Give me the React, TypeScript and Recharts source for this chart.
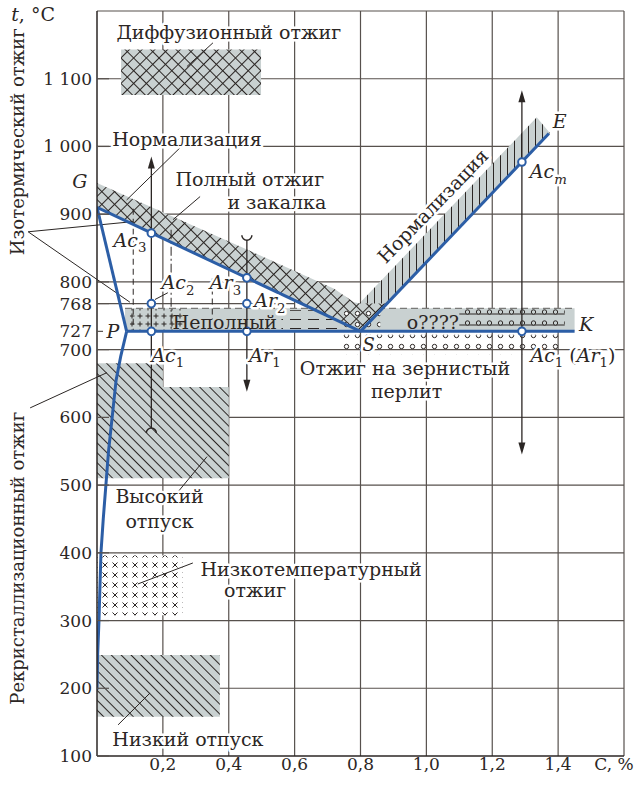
import React from 'react';
import { ComposedChart, XAxis, YAxis, Line, Area, ReferenceLine, ReferenceArea, ReferenceDot } from 'recharts';

const FONT = '"DejaVu Serif", serif';
const INK = '#2b2624';
const BLUE = '#2c5ea6';
const GRAY = '#c9d1d1';
const GRID = '#57514d';

// axes
const xTicks = [0.2, 0.4, 0.6, 0.8, 1.0, 1.2, 1.4, 1.6];
const yTicks = [100, 200, 300, 400, 500, 600, 700, 727, 768, 800, 900, 1000, 1100];
const gridX = [0.2, 0.4, 0.6, 0.8, 1.0, 1.2, 1.4, 1.6];
const gridY = [200, 300, 400, 500, 600, 700, 800, 900, 1000, 1100, 1200];

// phase lines (C %, t °C)
const lineGP = [{ x: 0, y: 910 }, { x: 0.09, y: 727 }];
const lineGS = [{ x: 0, y: 910 }, { x: 0.8, y: 727 }];
const lineSE = [{ x: 0.8, y: 727 }, { x: 1.372, y: 1019 }];
const linePK = [{ x: 0.09, y: 727 }, { x: 1.45, y: 727 }];
const curvePQ = [
  { x: 0.09, y: 727 }, { x: 0.072, y: 690 }, { x: 0.058, y: 655 }, { x: 0.046, y: 600 },
  { x: 0.035, y: 550 }, { x: 0.027, y: 500 }, { x: 0.019, y: 450 }, { x: 0.012, y: 400 },
  { x: 0.006, y: 300 }, { x: 0.002, y: 250 }, { x: 0, y: 198 },
];
const lineCurie = [{ x: 0, y: 768 }, { x: 0.6, y: 768 }];

// hatched bands [low, high]
const bandFull = [
  { x: 0, r: [910, 946] }, { x: 0.45, r: [807, 849] }, { x: 0.72, r: [745, 790] },
  { x: 0.78, r: [732, 770] }, { x: 0.8, r: [727, 768] }, { x: 0.87, r: [763, 768] }, { x: 0.88, r: [768, 768] },
];
const bandNorm = [{ x: 0.8, r: [727, 770] }, { x: 1.335, r: [1000, 1043] }, { x: 1.375, r: [1020, 1020] }];

// critical points
const pointsC = [
  { x: 0.165, y: 872 }, { x: 0.165, y: 768 }, { x: 0.165, y: 727 },
  { x: 0.455, y: 806 }, { x: 0.455, y: 768 }, { x: 0.455, y: 727 },
  { x: 1.29, y: 977 }, { x: 1.29, y: 727 },
];

const fmtY = (v: number) => (v >= 1000 ? `${Math.floor(v / 1000)} ${String(v % 1000).padStart(3, '0')}` : String(v));
const fmtX = (v: number) => (v > 1.5 ? 'C, %' : v.toFixed(1).replace('.', ','));

const YTick = (p: any) => {
  const v = p.payload.value;
  return (
    <g>
      <line x1={p.x + 5} x2={p.x + (v === 727 ? 11 : 17)} y1={p.y} y2={p.y} stroke={GRID} strokeWidth={1.2} />
      <text x={p.x} y={p.y + 6} textAnchor="end" fontFamily={FONT} fontSize={17} fill={INK}>{fmtY(v)}</text>
    </g>
  );
};
const XTick = (p: any) => {
  const v = p.payload.value;
  return (
    <text x={p.x + (v > 1.5 ? -10 : 0)} y={p.y + 12} textAnchor="middle" fontFamily={FONT} fontSize={17} fill={INK}>{fmtX(v)}</text>
  );
};

type Seg = [string, string?];
function Txt({ cx, cy, segs, size = 19, anchor = 'middle', halo = true, rotate = 0 }: any) {
  let level = 0;
  const spans = (segs as Seg[]).map(([t, s = ''], i) => {
    const sub = s.includes('s');
    const target = sub ? size * 0.3 : 0;
    const dy = target - level;
    level = target;
    return (
      <tspan key={i} dy={dy || undefined} fontStyle={s.includes('i') ? 'italic' : 'normal'} fontSize={sub ? size * 0.7 : size}>{t}</tspan>
    );
  });
  return (
    <text x={cx} y={cy + size * 0.35} textAnchor={anchor} fontFamily={FONT} fontSize={size} fill={INK}
      stroke={halo ? '#fff' : 'none'} strokeWidth={halo ? 5 : 0} strokeLinejoin="round" paintOrder="stroke"
      transform={rotate ? `rotate(${rotate} ${cx} ${cy})` : undefined}>
      {spans}
    </text>
  );
}

const note = (key: string, x: number, y: number, segs: Seg[], o: any = {}) => (
  <ReferenceDot key={key} x={x} y={y} r={0} ifOverflow="visible" zIndex={80}
    shape={(p: any) => <Txt cx={p.cx} cy={p.cy} segs={segs} {...o} />} />
);

const leader = (key: string, a: [number, number], b: [number, number], dash?: string) => (
  <ReferenceLine key={key} segment={[{ x: a[0], y: a[1] }, { x: b[0], y: b[1] }]} ifOverflow="visible" zIndex={40}
    stroke={INK} strokeWidth={1} strokeDasharray={dash} />
);

const arrowShape = (topEnd: string, botEnd: string) => (p: any) => {
  const x = p.x1;
  const top = Math.min(p.y1, p.y2);
  const bot = Math.max(p.y1, p.y2);
  const t = topEnd === 'arrow' ? top + 8 : topEnd === 'cup' ? top + 5 : top;
  const b = botEnd === 'arrow' ? bot - 8 : botEnd === 'cap' ? bot - 5 : bot;
  return (
    <g>
      <line x1={x} x2={x} y1={t} y2={b} stroke={INK} strokeWidth={1.3} />
      {topEnd === 'arrow' && <polygon points={`${x},${top} ${x - 3.5},${top + 12} ${x + 3.5},${top + 12}`} fill={INK} />}
      {topEnd === 'cup' && <path d={`M${x - 5},${top} A5 5 0 0 0 ${x + 5},${top}`} fill="none" stroke={INK} strokeWidth={1.5} />}
      {botEnd === 'arrow' && <polygon points={`${x},${bot} ${x - 3.5},${bot - 12} ${x + 3.5},${bot - 12}`} fill={INK} />}
      {botEnd === 'cap' && <path d={`M${x - 5},${bot} A5 5 0 0 1 ${x + 5},${bot}`} fill="none" stroke={INK} strokeWidth={1.5} />}
    </g>
  );
};

export default function App() {
  return (
    <div style={{ position: 'absolute', left: 0, top: 0, background: '#fff' }}>
      <ComposedChart width={640} height={787} margin={{ top: 11, right: 16, left: 0, bottom: 0 }}>
        <defs>
          <pattern id="pCross" width="9" height="9" patternUnits="userSpaceOnUse" patternTransform="rotate(45)">
            <rect width="9" height="9" fill={GRAY} />
            <path d="M0 0.5H9M0.5 0V9" stroke={INK} strokeWidth="1" />
          </pattern>
          <pattern id="pDiag" width="7" height="7" patternUnits="userSpaceOnUse" patternTransform="rotate(-45)">
            <rect width="7" height="7" fill={GRAY} />
            <path d="M0.5 0V7" stroke={INK} strokeWidth="1" />
          </pattern>
          <pattern id="pVert" width="7" height="7" patternUnits="userSpaceOnUse">
            <rect width="7" height="7" fill={GRAY} />
            <path d="M3.5 0V7" stroke={INK} strokeWidth="1" />
          </pattern>
          <pattern id="pX" width="10" height="10" patternUnits="userSpaceOnUse">
            <path d="M2.5 2.5L7.5 7.5M7.5 2.5L2.5 7.5" stroke={INK} strokeWidth="1" />
          </pattern>
          <pattern id="pDots" width="11" height="11" patternUnits="userSpaceOnUse">
            <circle cx="5.5" cy="5.5" r="2.2" fill="#fff" stroke={INK} strokeWidth="1" />
          </pattern>
          <pattern id="pDotDash" width="11" height="11" patternUnits="userSpaceOnUse">
            <path d="M0 6H11" stroke={INK} strokeWidth="1" />
            <circle cx="5.5" cy="4" r="2.2" fill={GRAY} stroke={INK} strokeWidth="1" />
          </pattern>
          <pattern id="pPlus" width="8" height="8" patternUnits="userSpaceOnUse">
            <path d="M4 1.5V6.5M1.5 4H6.5" stroke={INK} strokeWidth="1" />
          </pattern>
          <pattern id="pDash" width="18" height="9" patternUnits="userSpaceOnUse">
            <path d="M2 4.5H13" stroke={INK} strokeWidth="1" />
          </pattern>
        </defs>

        <XAxis type="number" dataKey="x" domain={[0, 1.6]} ticks={xTicks} interval={0} allowDataOverflow height={31}
          axisLine={{ stroke: INK, strokeWidth: 1.5 }} tickLine={false} tickSize={0} tick={<XTick />} />
        <YAxis type="number" dataKey="y" domain={[100, 1200]} ticks={yTicks} interval={0} allowDataOverflow width={97}
          axisLine={{ stroke: INK, strokeWidth: 1.5 }} tickLine={false} tickSize={0} tickMargin={5} tick={<YTick />} />

        {gridY.map((v) => <ReferenceLine key={`gy${v}`} y={v} stroke={GRID} strokeWidth={1.2} zIndex={10} />)}
        {gridX.map((v) => <ReferenceLine key={`gx${v}`} x={v} stroke={GRID} strokeWidth={1.2} zIndex={10} />)}

        {/* treatment regions */}
        <ReferenceArea x1={0.073} x2={0.498} y1={1076} y2={1143} fill="url(#pCross)" fillOpacity={1} stroke="none" zIndex={20} />
        <ReferenceArea x1={0} x2={0.2} y1={640} y2={680} fill="url(#pDiag)" fillOpacity={1} stroke="none" zIndex={20} />
        <ReferenceArea x1={0} x2={0.4} y1={510} y2={645} fill="url(#pDiag)" fillOpacity={1} stroke="none" zIndex={20} />
        <ReferenceArea x1={0} x2={0.26} y1={308} y2={396} fill="#fff" fillOpacity={1} stroke="none" zIndex={20} />
        <ReferenceArea x1={0} x2={0.26} y1={308} y2={396} fill="url(#pX)" fillOpacity={1} stroke="none" zIndex={21} />
        <ReferenceArea x1={0} x2={0.373} y1={158} y2={249} fill="url(#pDiag)" fillOpacity={1} stroke="none" zIndex={20} />
        <ReferenceArea x1={0.085} x2={1.45} y1={727} y2={761} fill={GRAY} fillOpacity={1} stroke="none" zIndex={20} />
        <ReferenceArea x1={0.1} x2={0.26} y1={729} y2={760} fill="url(#pPlus)" fillOpacity={1} stroke="none" zIndex={21} />
        <ReferenceArea x1={0.56} x2={0.74} y1={729} y2={758} fill="url(#pDash)" fillOpacity={1} stroke="none" zIndex={21} />
        <ReferenceArea x1={1.1} x2={1.42} y1={730} y2={760} fill="url(#pDotDash)" fillOpacity={1} stroke="none" zIndex={21} />
        <ReferenceArea x1={0.74} x2={1.4} y1={693} y2={722} fill="url(#pDots)" fillOpacity={1} stroke="none" zIndex={21} />
        <ReferenceLine segment={[{ x: 0.085, y: 761 }, { x: 1.45, y: 761 }]} stroke="#7a7a78" strokeDasharray="7 4" strokeWidth={1.3} zIndex={22} />

        <Area data={bandNorm} dataKey="r" type="linear" fill="url(#pVert)" fillOpacity={1} stroke="none" isAnimationActive={false} zIndex={30} />
        <Area data={bandFull} dataKey="r" type="linear" fill="url(#pCross)" fillOpacity={1} stroke="none" isAnimationActive={false} zIndex={31} />
        <ReferenceArea x1={0.75} x2={0.86} y1={729} y2={762} fill="url(#pDots)" fillOpacity={1} stroke="none" zIndex={32} />

        {/* thin lines */}
        <Line data={lineCurie} dataKey="y" stroke={GRID} strokeWidth={1.2} dot={false} activeDot={false} isAnimationActive={false} zIndex={40} />
        {leader('dv1', [0.11, 908], [0.11, 727], '6 4')}
        {leader('dv2', [0.225, 877], [0.225, 727], '9 3 2 3')}
        {leader('dv3', [0.35, 805], [0.35, 745], '6 4')}
        {leader('l1', [0.352, 1153], [0.273, 1118])}
        {leader('l2', [0.252, 998], [0.09, 921])}
        {leader('l3', [0.313, 926], [0.231, 892])}
        {leader('l4', [-0.209, 874], [0.109, 889])}
        {leader('l5', [-0.209, 874], [0.1, 770])}
        {leader('l6', [-0.203, 614], [0.03, 666])}
        {leader('l7', [0.246, 490], [0.334, 542])}
        {leader('l8', [0.291, 385], [0.124, 354])}
        {leader('l9', [0.064, 146], [0.161, 193])}
        {leader('l10', [0.176, 774], [0.215, 784])}

        {/* phase diagram lines */}
        <Line data={lineGS} dataKey="y" type="linear" stroke={BLUE} strokeWidth={3} dot={false} activeDot={false} isAnimationActive={false} zIndex={50} />
        <Line data={lineGP} dataKey="y" type="linear" stroke={BLUE} strokeWidth={3} dot={false} activeDot={false} isAnimationActive={false} zIndex={50} />
        <Line data={lineSE} dataKey="y" type="linear" stroke={BLUE} strokeWidth={3} dot={false} activeDot={false} isAnimationActive={false} zIndex={50} />
        <Line data={linePK} dataKey="y" type="linear" stroke={BLUE} strokeWidth={3} dot={false} activeDot={false} isAnimationActive={false} zIndex={50} />
        <Line data={curvePQ} dataKey="y" type="linear" stroke={BLUE} strokeWidth={3} dot={false} activeDot={false} isAnimationActive={false} zIndex={50} />

        {/* heating / cooling arrows */}
        <ReferenceLine segment={[{ x: 0.165, y: 577 }, { x: 0.165, y: 985 }]} zIndex={60} shape={arrowShape('arrow', 'cap')} />
        <ReferenceLine segment={[{ x: 0.455, y: 638 }, { x: 0.455, y: 869 }]} zIndex={60} shape={arrowShape('cup', 'arrow')} />
        <ReferenceLine segment={[{ x: 1.29, y: 545 }, { x: 1.29, y: 1083 }]} zIndex={60} shape={arrowShape('arrow', 'arrow')} />

        {pointsC.map((p, i) => (
          <ReferenceDot key={`pt${i}`} x={p.x} y={p.y} r={3.8} fill="#fff" stroke={BLUE} strokeWidth={2} zIndex={70} />
        ))}

        {/* labels */}
        {note('t', -0.194, 1195, [['t', 'i'], [', °C']], { halo: false })}
        {note('iso', -0.24, 1007, [['Изотермический отжиг']], { rotate: -90, halo: false, size: 18 })}
        {note('rek', -0.24, 392, [['Рекристаллизационный отжиг']], { rotate: -90, halo: false, size: 18 })}
        {note('dif', 0.4, 1169, [['Диффузионный отжиг']])}
        {note('norm1', 0.273, 1010, [['Нормализация']])}
        {note('full1', 0.464, 951, [['Полный отжиг']])}
        {note('full2', 0.546, 917, [['и закалка']])}
        {note('G', -0.052, 949, [['G', 'i']], { halo: false })}
        {note('P', 0.048, 727, [['P', 'i']], { halo: false })}
        {note('ac3', 0.1, 862, [['Ac', 'i'], ['3', 's']])}
        {note('ac2', 0.246, 799, [['Ac', 'i'], ['2', 's']])}
        {note('ar3', 0.39, 799, [['Ar', 'i'], ['3', 's']])}
        {note('ar2', 0.525, 773, [['Ar', 'i'], ['2', 's']])}
        {note('nep', 0.388, 740, [['Неполный']], { halo: false })}
        {note('q', 1.02, 740, [['o????']], { halo: false })}
        {note('ac1', 0.215, 692, [['Ac', 'i'], ['1', 's']])}
        {note('ar1', 0.51, 692, [['Ar', 'i'], ['1', 's']])}
        {note('S', 0.825, 707, [['S', 'i']], { size: 18 })}
        {note('K', 1.485, 737, [['K', 'i']])}
        {note('E', 1.405, 1037, [['E', 'i']])}
        {note('acm', 1.37, 963, [['Ac', 'i'], ['m', 'si']])}
        {note('ac1ar1', 1.445, 692, [['Ac', 'i'], ['1', 's'], [' ('], ['Ar', 'i'], ['1', 's'], [')']])}
        {note('zern1', 0.935, 672, [['Отжиг на зернистый']])}
        {note('zern2', 0.94, 638, [['перлит']])}
        {note('norm2', 1.02, 912, [['Нормализация']], { rotate: -46 })}
        {note('vys1', 0.19, 484, [['Высокий']])}
        {note('vys2', 0.19, 447, [['отпуск']])}
        {note('nt1', 0.65, 376, [['Низкотемпературный']])}
        {note('nt2', 0.48, 344, [['отжиг']])}
        {note('niz', 0.276, 124, [['Низкий отпуск']])}
      </ComposedChart>
    </div>
  );
}
